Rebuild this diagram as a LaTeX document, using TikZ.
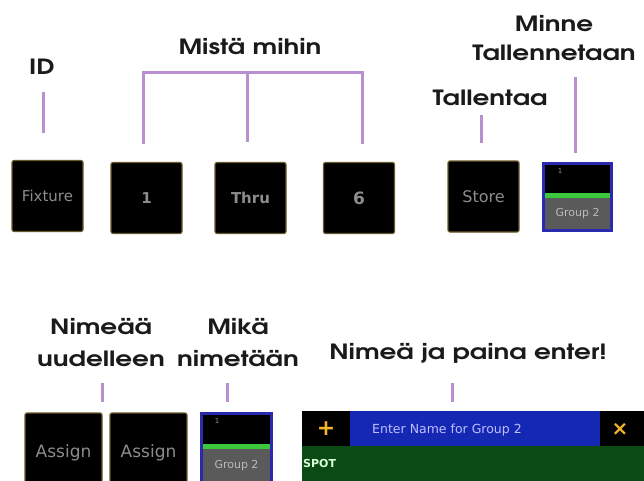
\documentclass[tikz,border=0pt]{standalone}
\usepackage{fontspec}
\setmainfont{TeX Gyre Adventor}[FakeStretch=1.25]
\newfontfamily\boxfont{DejaVu Sans}
\definecolor{lab}{HTML}{1A1A1A}
\definecolor{purp}{HTML}{B88FD0}
\definecolor{gold}{HTML}{6B5A2A}
\definecolor{btxt}{HTML}{8C8C8C}
\definecolor{gblue}{HTML}{2A2AB0}
\definecolor{ggreen}{HTML}{3CC83C}
\definecolor{ggray}{HTML}{5A5A5A}
\definecolor{dblue}{HTML}{1428B4}
\definecolor{dgreen}{HTML}{0B4A12}
\definecolor{ylw}{HTML}{F2B62A}
\begin{document}
\begin{tikzpicture}[x=1pt,y=-1pt,
  lbl/.style={text=lab,font=\fontsize{21}{24}\selectfont\bfseries,inner sep=0pt,align=center},
  key/.style={fill=black,draw=gold,line width=1.2pt,rounded corners=2pt,minimum width=71pt,minimum height=71pt,inner sep=0pt,text=btxt,font=\boxfont\fontsize{16}{17}\selectfont},
  pl/.style={draw=purp,line width=3pt}]
\useasboundingbox (0,0) rectangle (644,480);
% top row keys
\node[key,font=\boxfont\fontsize{15}{17}\selectfont] (fix) at (47.5,196) {Fixture};
\node[key,font=\boxfont\fontsize{15}{17}\selectfont\bfseries] (k1) at (146.5,198) {1};
\node[key,font=\boxfont\fontsize{15}{17}\selectfont\bfseries] (thru) at (250.5,198) {Thru};
\node[key,font=\boxfont\fontsize{17}{18}\selectfont\bfseries] (k6) at (359,198) {6};
\node[key] (store) at (483.5,196.5) {Store};
% group tile top
\fill[gblue] (542,162) rectangle (613,232);
\fill[black] (545,165) rectangle (610,194);
\fill[ggreen] (545,193) rectangle (610,198);
\fill[ggray] (545,198) rectangle (610,229);
\node[inner sep=0pt,text=btxt,font=\boxfont\fontsize{7}{8}\selectfont] (g1n) at (560,171) {1};
\node[inner sep=0pt,text=btxt!60,font=\boxfont\fontsize{11}{12}\selectfont] (g1) at (577.5,214) {Group 2};
\coordinate (grp1) at (577.5,162);
% labels top
\node[lbl] (id) at (42,67) {ID};
\node[lbl] (mm) at (250,47) {Mistä mihin};
\node[lbl] (tal) at (490,98) {Tallentaa};
\node[lbl] (min) at (554,38) {Minne\\[5pt]Tallennetaan};
% connectors top
\draw[pl] (43,92) -- (43,133);
\coordinate (bl) at (143,72);
\coordinate (bm) at (247,72);
\coordinate (br) at (362,72);
\draw[pl,line cap=rect] (143,142) -- (bl) -- (br) -- (362,142);
\draw[pl] (bm) -- (247,142);
\draw[pl] (481,115) -- (481,143);
\draw[pl] (575,77) -- (575,153);
% bottom labels
\node[lbl] (nu) at (101,343) {Nimeää\\[8pt]uudelleen};
\node[lbl] (mk) at (238,343) {Mikä\\[8pt]nimetään};
\node[lbl] (npe) at (468,353) {Nimeä ja paina enter!};
\draw[pl] (102,383) -- (102,402);
\draw[pl] (227,383) -- (227,402);
\draw[pl] (452,383) -- (452,402);
% bottom keys
\begin{scope}
\clip (0,0) rectangle (644,480);
\node[key,minimum width=77pt,minimum height=80pt,font=\boxfont\fontsize{17}{18}\selectfont] (as1) at (63.5,453) {Assign};
\node[key,minimum width=77pt,minimum height=80pt,font=\boxfont\fontsize{17}{18}\selectfont] (as2) at (148.5,453) {Assign};
\fill[gblue] (200,412) rectangle (273,490);
\fill[black] (203,415) rectangle (270,445);
\fill[ggreen] (203,444) rectangle (270,449);
\fill[ggray] (203,449) rectangle (270,490);
\node[inner sep=0pt,text=btxt,font=\boxfont\fontsize{7}{8}\selectfont] (g2n) at (217,421) {1};
\node[inner sep=0pt,text=btxt!60,font=\boxfont\fontsize{11}{12}\selectfont] (g2) at (236.5,466) {Group 2};
% dialog
\fill[dblue] (302,411) rectangle (644,446);
\fill[black] (302,411) rectangle (350,446);
\fill[black] (600,411) rectangle (644,446);
\fill[dgreen] (302,446) rectangle (644,490);
\node[inner sep=0pt,text=ylw,font=\boxfont\fontsize{22}{22}\selectfont\bfseries] (plus) at (326,429) {+};
\node[inner sep=0pt,text=ylw,font=\boxfont\fontsize{20}{20}\selectfont\bfseries] (xx) at (620,429) {×};
\node[inner sep=0pt,text=white!75!blue,font=\boxfont\fontsize{12.5}{13}\selectfont] (title) at (447,430) {Enter Name for Group 2};
\node[inner sep=0pt,anchor=west,text=white!85!green,font=\boxfont\fontsize{11}{12}\selectfont\bfseries] (spot) at (303,463) {SPOT};
\end{scope}
\end{tikzpicture}
\end{document}
